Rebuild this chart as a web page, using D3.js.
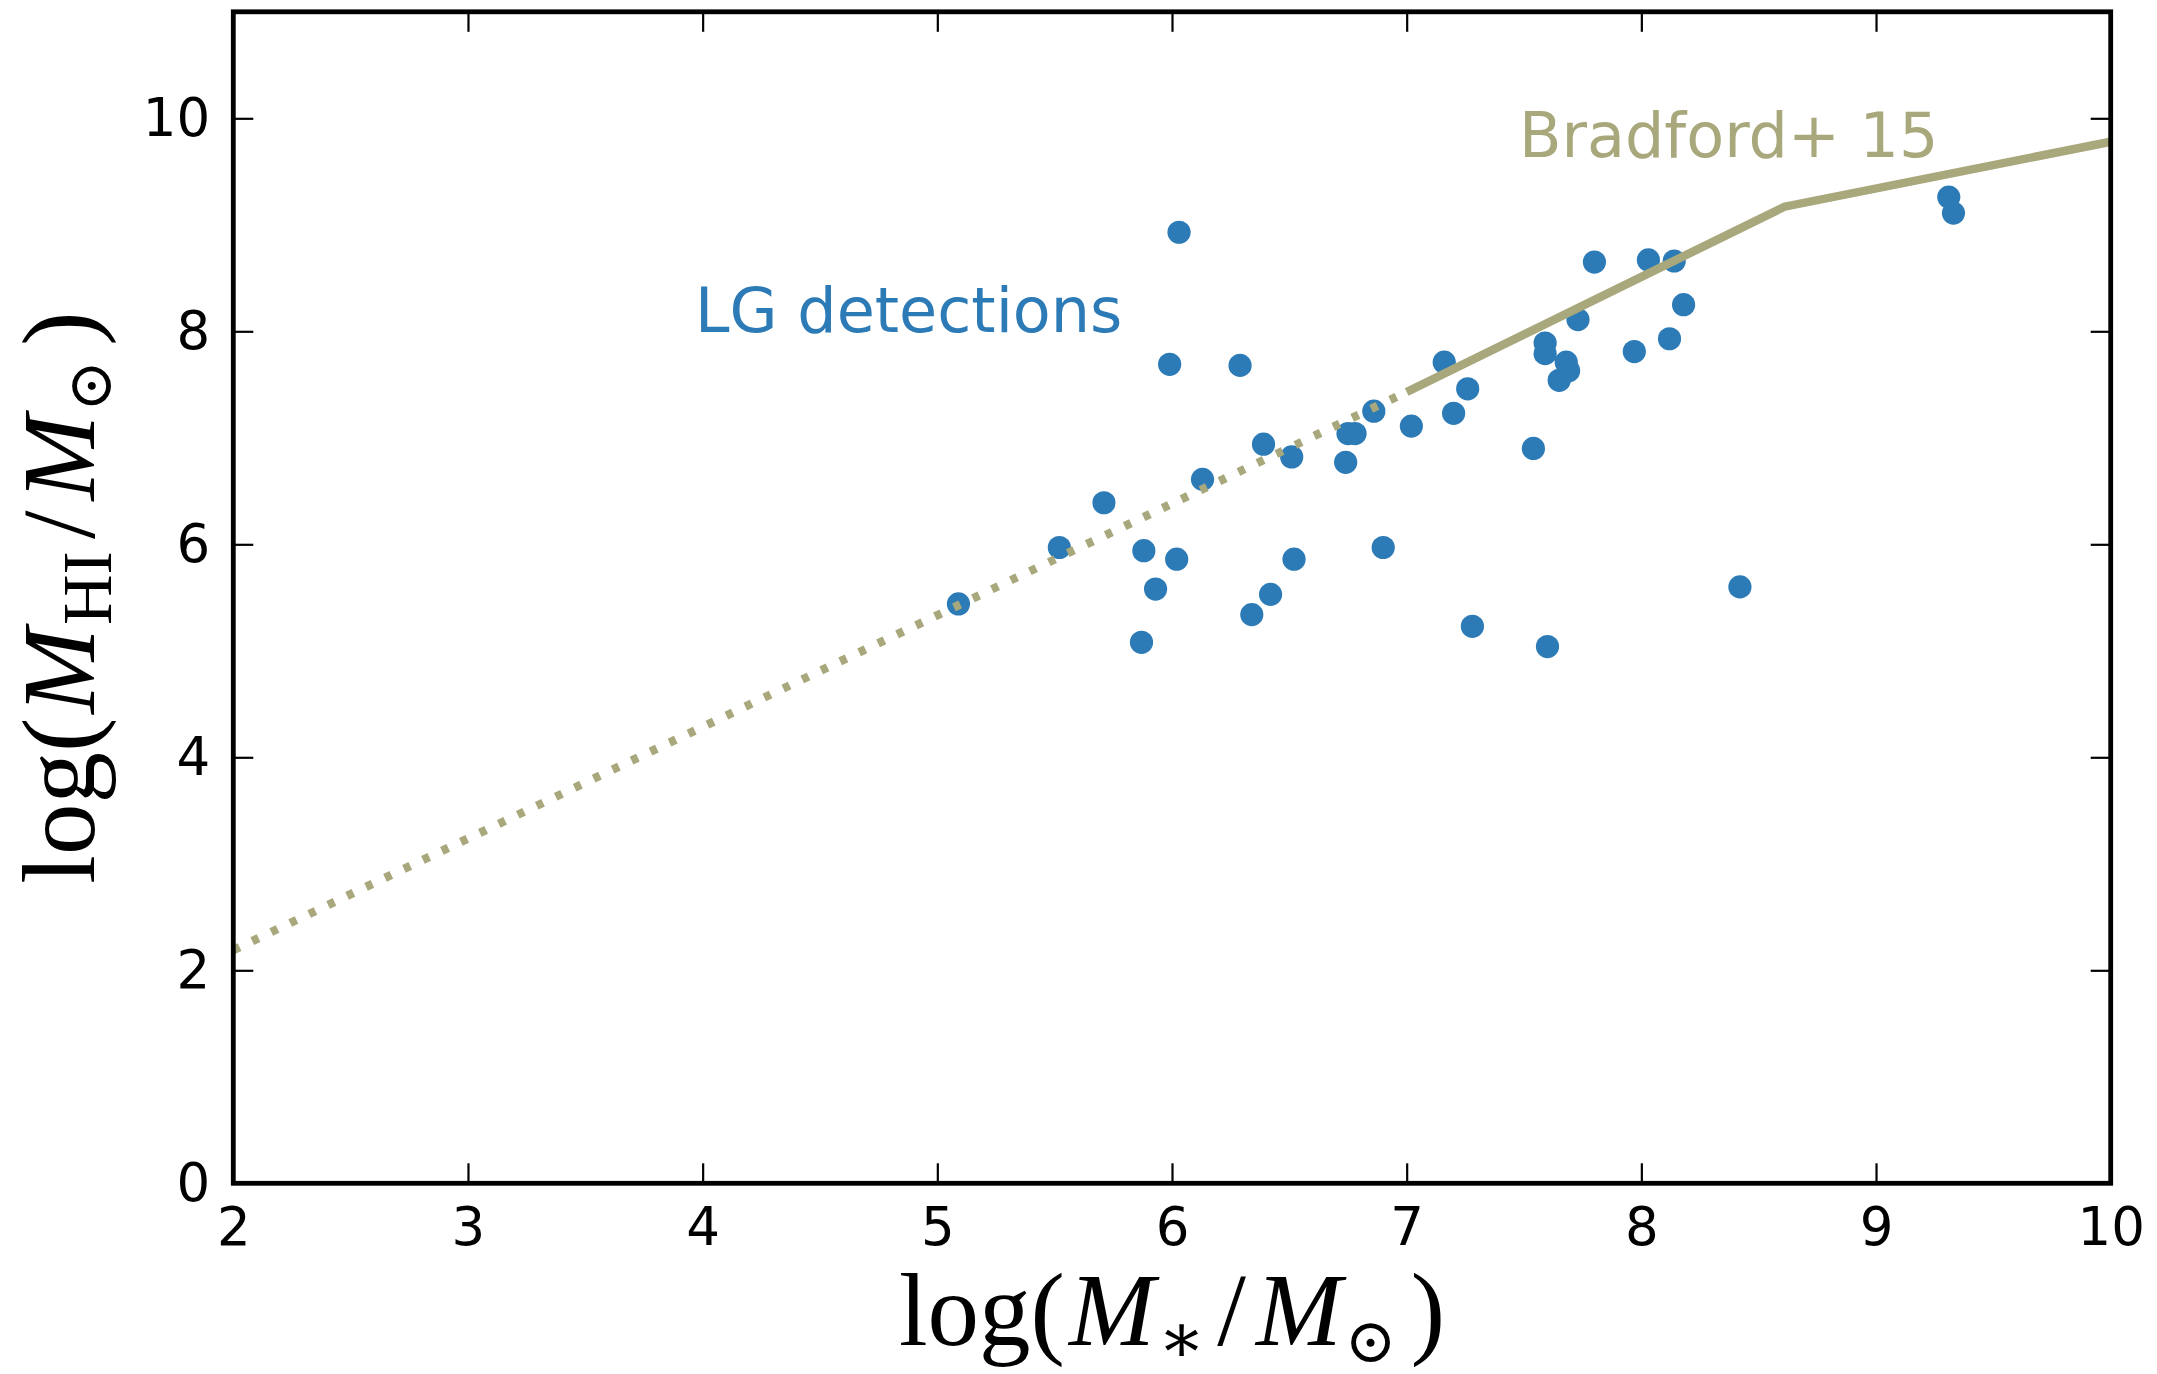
<!DOCTYPE html>
<html>
<head>
<meta charset="utf-8">
<script src="https://cdn.jsdelivr.net/npm/d3@7"></script>
<style>
  html, body { margin: 0; padding: 0; background: #ffffff; }
  svg { display: block; }
  .tick text { font-family: "DejaVu Sans", sans-serif; }
</style>
</head>
<body>
<script>
// Local Group HI detections: stellar mass vs HI mass (log solar units)
const logMstar = [6.03, 5.99, 6.29, 6.39, 6.51, 6.13, 5.71, 5.52, 5.88, 6.02,
                  5.93, 5.09, 5.87, 6.42, 6.34, 6.52, 7.80, 8.03, 8.14, 7.73,
                  7.59, 7.59, 7.68, 7.69, 7.65, 7.97, 7.16, 7.26, 7.20, 6.86,
                  7.02, 6.75, 6.78, 6.74, 7.54, 6.90, 7.28, 7.60, 8.18, 8.12,
                  9.31, 9.33, 8.42];
const logMHI   = [8.93, 7.69, 7.68, 6.94, 6.82, 6.61, 6.39, 5.97, 5.94, 5.86,
                  5.58, 5.44, 5.08, 5.53, 5.34, 5.86, 8.65, 8.67, 8.66, 8.11,
                  7.89, 7.79, 7.71, 7.63, 7.54, 7.81, 7.71, 7.46, 7.23, 7.25,
                  7.11, 7.04, 7.04, 6.77, 6.90, 5.97, 5.23, 5.04, 8.25, 7.93,
                  9.26, 9.11, 5.60];

// Bradford et al. 2015 relation: extrapolated part (dotted) and fitted range (solid)
const bradfordExtrapX = [2, 7];
const bradfordExtrapY = [2.19, 7.43];
const bradfordFitX = [7, 8.61, 10];
const bradfordFitY = [7.43, 9.17, 9.78];

const xTicks = [2, 3, 4, 5, 6, 7, 8, 9, 10];
const yTicks = [0, 2, 4, 6, 8, 10];

const W = 2157, H = 1374;
const plotLeft = 233.3, plotRight = 2110.7, plotTop = 11.8, plotBottom = 1183.3;
const blue = "#2d7bb6", olive = "#a8a87c";

const x = d3.scaleLinear().domain([2, 10]).range([plotLeft, plotRight]);
const y = d3.scaleLinear().domain([0, 11]).range([plotBottom, plotTop]);

const svg = d3.select("body").append("svg")
  .attr("width", W).attr("height", H)
  .attr("viewBox", `0 0 ${W} ${H}`);

svg.append("rect").attr("width", W).attr("height", H).attr("fill", "#fff");

// scatter points
svg.append("g").selectAll("circle")
  .data(logMstar.map((m, i) => [m, logMHI[i]]))
  .join("circle")
  .attr("cx", d => x(d[0]))
  .attr("cy", d => y(d[1]))
  .attr("r", 11.6)
  .attr("fill", blue);

// relation lines
const line = d3.line().x(d => x(d[0])).y(d => y(d[1]));
svg.append("path")
  .datum(bradfordExtrapX.map((v, i) => [v, bradfordExtrapY[i]]))
  .attr("d", line)
  .attr("fill", "none")
  .attr("stroke", olive)
  .attr("stroke-width", 8.5)
  .attr("stroke-dasharray", "7 14");
svg.append("path")
  .datum(bradfordFitX.map((v, i) => [v, bradfordFitY[i]]))
  .attr("d", line)
  .attr("fill", "none")
  .attr("stroke", olive)
  .attr("stroke-width", 8.5)
  .attr("stroke-linejoin", "miter");

// axes with inward ticks on all four sides
const tickLen = 20;
function styleAxis(g) {
  g.select(".domain").remove();
  g.selectAll(".tick line").attr("stroke", "#000").attr("stroke-width", 2.2);
  g.selectAll(".tick text").attr("fill", "#000").attr("font-size", 53);
}
svg.append("g").attr("transform", `translate(0,${plotBottom})`)
  .call(d3.axisBottom(x).tickValues(xTicks).tickFormat(d3.format("d"))
        .tickSizeInner(-tickLen).tickSizeOuter(0).tickPadding(24))
  .call(styleAxis);
svg.append("g").attr("transform", `translate(0,${plotTop})`)
  .call(d3.axisTop(x).tickValues(xTicks).tickFormat("")
        .tickSizeInner(-tickLen).tickSizeOuter(0))
  .call(styleAxis);
svg.append("g").attr("transform", `translate(${plotLeft},0)`)
  .call(d3.axisLeft(y).tickValues(yTicks).tickFormat(d3.format("d"))
        .tickSizeInner(-tickLen).tickSizeOuter(0).tickPadding(23))
  .call(styleAxis);
svg.append("g").attr("transform", `translate(${plotRight},0)`)
  .call(d3.axisRight(y).tickValues(yTicks).tickFormat("")
        .tickSizeInner(-tickLen).tickSizeOuter(0))
  .call(styleAxis);

// frame
svg.append("rect")
  .attr("x", plotLeft).attr("y", plotTop)
  .attr("width", plotRight - plotLeft).attr("height", plotBottom - plotTop)
  .attr("fill", "none").attr("stroke", "#000").attr("stroke-width", 4.8);

// in-plot labels
svg.append("text").attr("x", 695).attr("y", 332)
  .attr("font-family", "DejaVu Sans").attr("font-size", 62)
  .attr("fill", blue).text("LG detections");
svg.append("text").attr("x", 1519).attr("y", 157)
  .attr("font-family", "DejaVu Sans").attr("font-size", 62)
  .attr("fill", olive).text("Bradford+ 15");

// math-style axis titles
function mathLabel(sel, sub1) {
  sel.attr("font-family", "'Liberation Serif', 'DejaVu Serif', serif")
     .attr("font-size", 103).attr("fill", "#000").attr("text-anchor", "middle");
  sel.append("tspan").text("log(");
  sel.append("tspan").attr("font-style", "italic").attr("dx", 4).text("M");
  sel.append("tspan").attr("font-size", 70).attr("dy", 17).attr("dx", 3).text(sub1);
  sel.append("tspan").attr("dy", -17).attr("dx", 12).text("/");
  sel.append("tspan").attr("font-style", "italic").attr("dx", 10).text("M");
  sel.append("tspan").attr("font-size", 62).attr("dy", 17).attr("dx", 3)
     .attr("font-family", "'DejaVu Serif', serif").text("\u2299");
  sel.append("tspan").attr("dy", -17).attr("dx", 14).text(")");
}
svg.append("text").attr("x", (plotLeft + plotRight) / 2).attr("y", 1345)
  .call(mathLabel, "\u2217");
svg.append("text")
  .attr("transform", `translate(94,${(plotTop + plotBottom) / 2}) rotate(-90)`)
  .call(mathLabel, "HI");
</script>
</body>
</html>
